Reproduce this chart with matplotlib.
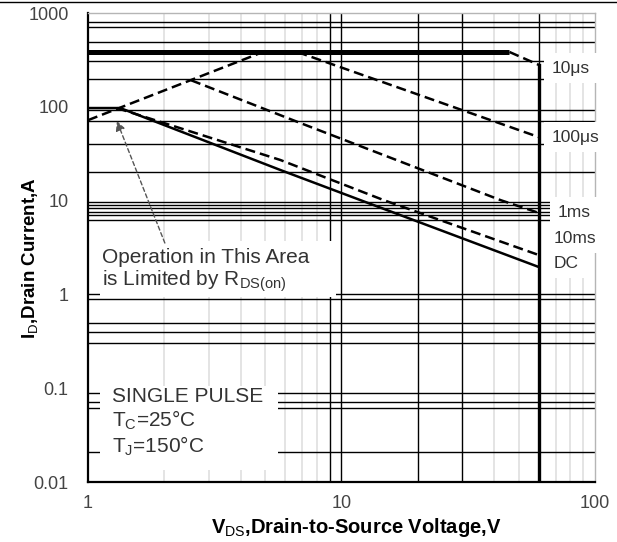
import matplotlib
matplotlib.use("Agg")
import matplotlib.pyplot as plt
from matplotlib.patches import Rectangle
from matplotlib.lines import Line2D

plt.rcParams['font.family'] = ['Liberation Sans', 'DejaVu Sans']
plt.rcParams['mathtext.fontset'] = 'custom'
plt.rcParams['mathtext.rm'] = 'Liberation Sans'
plt.rcParams['mathtext.it'] = 'Liberation Sans:italic'
plt.rcParams['mathtext.bf'] = 'Liberation Sans:bold'

# --- data (V in volts, I in amps) ---
rds_v = [1.0, 4.9]                 # R_DS(on) limit
rds_i = [72, 384]
idm_v = [1.0, 46]                  # pulsed current limit (10us)
idm_i = [384, 384]
us10_v = [46, 60]
us10_i = [384, 280]
us100_v = [6.7, 30, 60]
us100_i = [384, 92, 47.6]
ms1_v = [2.55, 6.9, 42.5, 60]
ms1_i = [192, 67, 10.1, 7.4]
ms10_v = [1.3, 5.74, 14.7, 60]
ms10_i = [97, 27.1, 10.1, 2.63]
dc_v = [1.0, 1.34, 5.74, 11.9, 60]
dc_i = [97, 97, 21.2, 10.1, 1.96]
vdss = 60
vdss_top = 280

curve_labels = ["10\u03bcs", "100\u03bcs", "1ms", "10ms", "DC"]
label_pos = [(67.7, 259), (67.7, 47.6), (71.5, 7.55), (68.4, 3.99), (68.4, 2.16)]

# grid lines as they appear on the scanned sheet
hgrid = [800, 710, 490, 310, 200, 92, 71, 40, 20, 9.7, 9.0, 8.3, 7.5, 7.0, 6.2,
         1.01, 0.89, 0.50, 0.40, 0.30, 0.089, 0.071, 0.062, 0.021]
vgrid_black = [9.05, 10, 20, 30, 60]
vgrid_gray = [2, 3, 4, 5, 6, 7, 8, 40, 50, 70, 80, 90]

xticks = [1, 10, 100]
xtick_labels = ["1", "10", "100"]
yticks = [0.01, 0.1, 1, 10, 100, 1000]
ytick_labels = ["0.01", "0.1", "1", "10", "100", "1000"]

fig = plt.figure(figsize=(6.17, 5.42), dpi=100)
ax = fig.add_axes([0.1426, 0.1107, 0.8217, 0.8653])
ax.set_xscale("log")
ax.set_yscale("log")
ax.set_xlim(1, 100)
ax.set_ylim(0.01, 1000)

for v in vgrid_gray:
    ax.axvline(v, color="#dcdcdc", lw=1.1, zorder=1)
for v in vgrid_black:
    ax.axvline(v, color="black", lw=1.0, zorder=1.2)
for h in hgrid:
    ax.axhline(h, color="black", lw=1.0, zorder=1.2)

# white boxes behind the notes
ax.add_patch(Rectangle((0.0237, 0.394), 0.465, 0.120, transform=ax.transAxes,
                       facecolor="white", edgecolor="none", zorder=2))
ax.add_patch(Rectangle((0.0237, 0.0256), 0.351, 0.180, transform=ax.transAxes,
                       facecolor="white", edgecolor="none", zorder=2))

dash = (0, (4, 2))
ax.plot(rds_v, rds_i, color="black", lw=1.8, linestyle=dash, zorder=3)
ax.plot(idm_v, idm_i, color="black", lw=3.6, solid_capstyle="butt", zorder=3)
ax.plot(us10_v, us10_i, color="black", lw=1.8, linestyle=dash, zorder=3)
ax.plot(us100_v, us100_i, color="black", lw=1.8, linestyle=dash, zorder=3)
ax.plot(ms1_v, ms1_i, color="black", lw=1.8, linestyle=dash, zorder=3)
ax.plot(ms10_v, ms10_i, color="black", lw=1.8, linestyle=dash, zorder=3)
ax.plot(dc_v, dc_i, color="black", lw=1.8, zorder=3)
ax.plot([vdss, vdss], [0.01, vdss_top], color="black", lw=2.4, zorder=3)

for lab, (x, y) in zip(curve_labels, label_pos):
    ax.text(x, y, lab, fontsize=12.5, color="#333333", ha="left", va="center",
            zorder=4, clip_on=False,
            bbox=dict(facecolor="white", edgecolor="none", boxstyle="square,pad=0.45"))

ax.text(1.136, 1.77, "Operation in This Area\nis Limited by R$_\\mathrm{DS(on)}$",
        fontsize=15, color="#333333", ha="left", va="center", linespacing=1.05, zorder=4)
ax.text(1.244, 0.0426, "SINGLE PULSE\nT$_\\mathrm{C}$=25\u00b0C\nT$_\\mathrm{J}$=150\u00b0C",
        fontsize=15, color="#333333", ha="left", va="center", linespacing=1.15, zorder=4)

ax.annotate("", xy=(1.30, 70.6), xytext=(2.01, 3.53),
            arrowprops=dict(arrowstyle="-|>", linestyle=(0, (3, 2)), color="#555555",
                            lw=1.0, mutation_scale=14, shrinkA=0, shrinkB=0),
            zorder=5)

ax.set_xticks(xticks)
ax.set_xticklabels(xtick_labels)
ax.set_yticks(yticks)
ax.set_yticklabels(ytick_labels)
ax.minorticks_off()
ax.tick_params(axis="both", length=0, labelsize=13, labelcolor="#444444")
ax.tick_params(axis="y", pad=14)
ax.tick_params(axis="x", pad=9)

for side in ["left", "bottom"]:
    ax.spines[side].set_color("black")
    ax.spines[side].set_linewidth(1.6)
for side in ["top", "right"]:
    ax.spines[side].set_color("#b5b5b5")
    ax.spines[side].set_linewidth(1.0)

ax.set_xlabel("V$_\\mathrm{DS}$,Drain-to-Source Voltage,V", fontsize=14.5, fontweight="bold")
ax.xaxis.label.set_va("center")
ax.xaxis.set_label_coords(0.53, -0.098)
ax.set_ylabel("I$_\\mathrm{D}$,Drain Current,A", fontsize=13.5, fontweight="bold")
ax.yaxis.label.set_va("center")
ax.yaxis.set_label_coords(-0.115, 0.478)

fig.add_artist(Line2D([0, 1], [1 - 2 / 542, 1 - 2 / 542], transform=fig.transFigure,
                      color="black", lw=1.0))

fig.savefig("out.png", dpi=100)
